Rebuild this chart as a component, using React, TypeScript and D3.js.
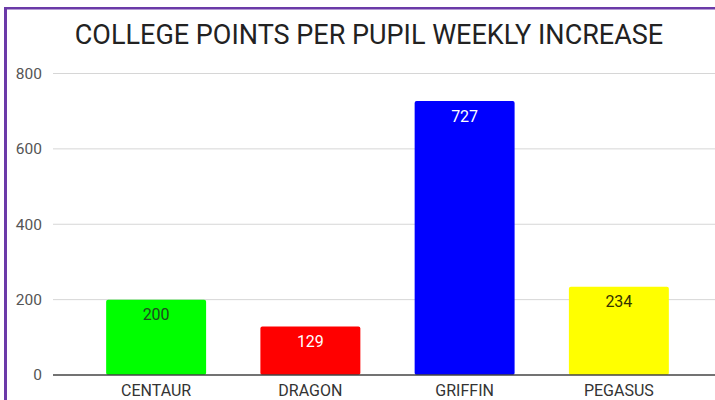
import { useEffect, useRef } from 'react';
import { select, scaleBand, scaleLinear } from "d3"

// chart data
const colleges = ["CENTAUR", "DRAGON", "GRIFFIN", "PEGASUS"];
const increases = [200, 129, 727, 234];
const barColors = ["#00ff00", "#ff0000", "#0000ff", "#ffff00"];
const labelColors = ["#1e4a1e", "#ffffff", "#ffffff", "#333300"];
const yTicks = [0, 200, 400, 600, 800];
const chartTitle = "COLLEGE POINTS PER PUPIL WEEKLY INCREASE";

const width = 715, height = 400;
const margin = {top: 73.5, right: 0, bottom: 25, left: 53};

const App = () => {

    const svgRef = useRef<SVGSVGElement>(null);

    useEffect(() => {
        const svg = select(svgRef.current);
        svg.selectAll("*").remove();

        // white background + purple frame on top and left
        svg.append("rect").attr("width", width).attr("height", height).attr("fill", "#fff");
        svg.append("rect").attr("x", 4).attr("y", 7).attr("width", width - 4).attr("height", 2.5).attr("fill", "#6b3aa8");
        svg.append("rect").attr("x", 4).attr("y", 7).attr("width", 3).attr("height", height - 7).attr("fill", "#6b3aa8");

        const y = scaleLinear().domain([0, 800]).range([375, margin.top]);
        const x = scaleBand().domain(colleges).range([79, 696]).paddingInner(0.352).paddingOuter(0.176);

        // title
        svg.append("text")
            .attr("x", 369)
            .attr("y", 44)
            .attr("text-anchor", "middle")
            .attr("font-family", "Roboto")
            .attr("font-size", 27)
            .attr("fill", "#222")
            .text(chartTitle);

        // gridlines + y labels
        const grid = svg.append("g");
        yTicks.forEach(t => {
            if (t !== 0) {
                grid.append("line")
                    .attr("x1", margin.left).attr("x2", width)
                    .attr("y1", y(t)).attr("y2", y(t))
                    .attr("stroke", "#d6d6d6").attr("stroke-width", 1);
            }
            grid.append("text")
                .attr("x", 42)
                .attr("y", y(t))
                .attr("dy", "0.35em")
                .attr("text-anchor", "end")
                .attr("font-family", "Roboto")
                .attr("font-size", 15.5)
                .attr("fill", "#555")
                .text(t);
        });

        // bars
        svg.selectAll("rect.bar")
            .data(increases)
            .enter().append("rect")
            .attr("class", "bar")
            .attr("x", (d, i) => x(colleges[i]) as number)
            .attr("y", d => y(d))
            .attr("width", x.bandwidth())
            .attr("height", d => y(0) - y(d))
            .attr("rx", 2)
            .attr("fill", (d, i) => barColors[i]);

        // value labels inside bars
        svg.selectAll("text.value")
            .data(increases)
            .enter().append("text")
            .attr("class", "value")
            .attr("x", (d, i) => (x(colleges[i]) as number) + x.bandwidth() / 2)
            .attr("y", d => y(d) + 20.5)
            .attr("text-anchor", "middle")
            .attr("font-family", "Roboto")
            .attr("font-size", 16)
            .attr("fill", (d, i) => labelColors[i])
            .text(d => d);

        // baseline
        svg.append("line")
            .attr("x1", margin.left).attr("x2", width)
            .attr("y1", y(0)).attr("y2", y(0))
            .attr("stroke", "#444").attr("stroke-width", 1.5);

        // category labels
        svg.selectAll("text.cat")
            .data(colleges)
            .enter().append("text")
            .attr("class", "cat")
            .attr("x", d => (x(d) as number) + x.bandwidth() / 2)
            .attr("y", 396)
            .attr("text-anchor", "middle")
            .attr("font-family", "Roboto")
            .attr("font-size", 16)
            .attr("fill", "#333")
            .text(d => d);
    }, [])

    return (
        <svg
            ref={svgRef}
            width={width}
            height={height}
            style={{position: "absolute", left: 0, top: 0}}
        ></svg>
    )
}

export default App;
